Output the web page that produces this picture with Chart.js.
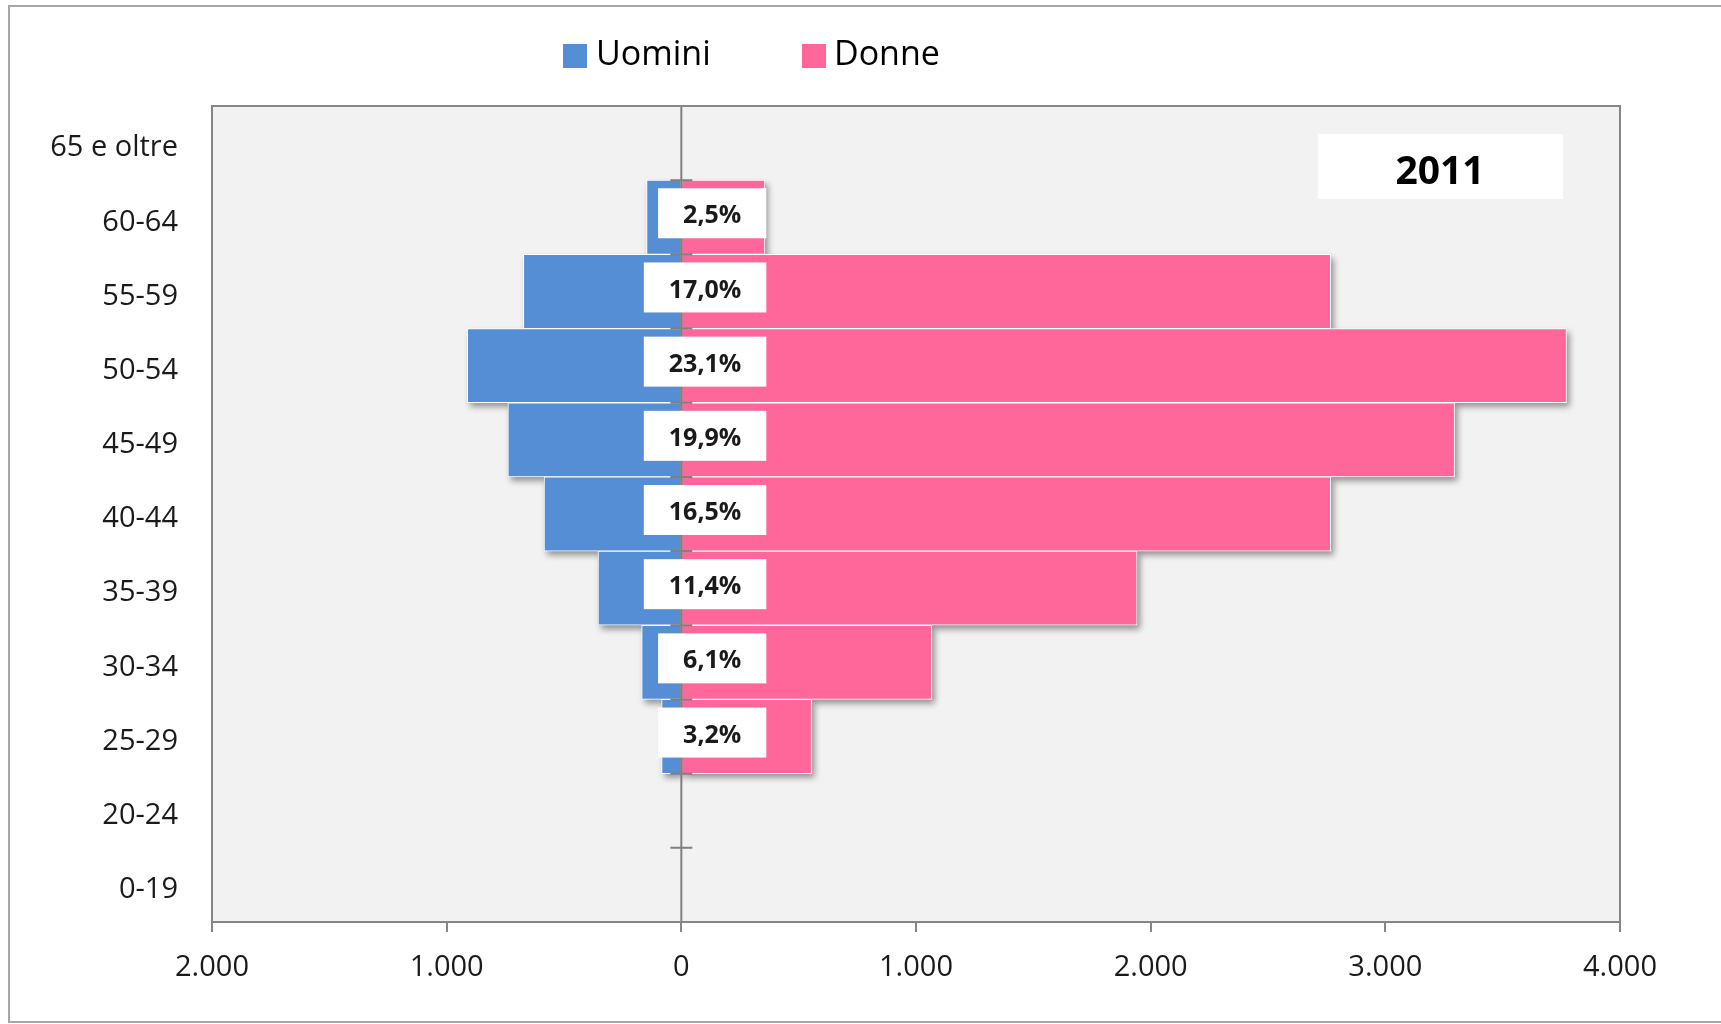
<html>
  <head>
    <style>
      body { margin: 0; background: #fff; }
      #wrap { width: 1721px; height: 1024px; }
    </style>
  </head>
  <body>
    <script src="https://cdn.jsdelivr.net/npm/chart.js@4.4.1/dist/chart.umd.min.js"></script>
    <div id="wrap"><canvas id="myChart"></canvas></div>

    <script>
      // dati (fasce d'età dall'alto in basso)
      const categories = ['65 e oltre', '60-64', '55-59', '50-54', '45-49', '40-44', '35-39', '30-34', '25-29', '20-24', '0-19'];
      const uomini = [0, 148, 673, 912, 739, 585, 355, 169, 84, 0, 0];
      const donne = [0, 356, 2767, 3772, 3295, 2767, 1942, 1067, 555, 0, 0];
      const pctLabels = ['', '2,5%', '17,0%', '23,1%', '19,9%', '16,5%', '11,4%', '6,1%', '3,2%', '', ''];
      const xTicks = [-2000, -1000, 0, 1000, 2000, 3000, 4000];
      const yearLabel = '2011';

      const BLUE = '#558ED5';
      const PINK = '#FF6699';
      const FONT = "'Open Sans', sans-serif";

      // 2000 -> "2.000"
      function fmt(v) {
        return String(Math.abs(v)).replace(/\B(?=(\d{3})+(?!\d))/g, '.');
      }

      // sfondo, cornici, ombre
      const decoPlugin = {
        id: 'deco',
        beforeDraw(chart) {
          const ctx = chart.ctx, a = chart.chartArea;
          ctx.save();
          ctx.fillStyle = '#fff';
          ctx.fillRect(0, 0, chart.width, chart.height);
          ctx.strokeStyle = '#a6a6a6';
          ctx.lineWidth = 2;
          ctx.strokeRect(9, 6, chart.width + 10, chart.height - 8);
          ctx.fillStyle = '#f2f2f2';
          ctx.fillRect(a.left, a.top, a.right - a.left, a.bottom - a.top);
          ctx.restore();
        },
        beforeDatasetsDraw(chart) {
          // ombre delle barre
          const ctx = chart.ctx;
          ctx.save();
          ctx.fillStyle = 'rgba(0,0,0,0.4)';
          ctx.filter = 'blur(3px)';
          chart.data.datasets.forEach((ds, di) => {
            chart.getDatasetMeta(di).data.forEach(el => {
              const p = el.getProps(['x', 'y', 'base', 'height'], true);
              if (Math.abs(p.x - p.base) < 1) return;
              const l = Math.min(p.x, p.base), r = Math.max(p.x, p.base);
              ctx.fillRect(l + 3, p.y - p.height / 2 + 4, r - l, p.height);
            });
          });
          ctx.restore();
        },
        afterDatasetsDraw(chart) {
          const ctx = chart.ctx, a = chart.chartArea;
          const xs = chart.scales.x, ys = chart.scales.y;
          const x0 = xs.getPixelForValue(0);
          const band = (a.bottom - a.top) / categories.length;
          ctx.save();
          // linea dello zero con tacche
          ctx.strokeStyle = '#808080';
          ctx.lineWidth = 2;
          ctx.beginPath();
          ctx.moveTo(x0, a.top);
          ctx.lineTo(x0, a.bottom);
          for (let i = 1; i <= 10; i++) {
            const y = a.top + band * i;
            ctx.moveTo(x0 - 11, y);
            ctx.lineTo(x0 + 11, y);
          }
          ctx.stroke();

          // etichette percentuali
          ctx.font = 'bold 25px ' + FONT;
          ctx.textAlign = 'center';
          ctx.textBaseline = 'middle';
          pctLabels.forEach((t, i) => {
            if (!t) return;
            const yc = ys.getPixelForValue(i);
            const w = ctx.measureText(t).width + 50;
            const right = x0 + 85;
            ctx.fillStyle = '#fff';
            ctx.fillRect(right - w, yc - 29, w, 50);
            ctx.fillStyle = '#1a1a1a';
            ctx.fillText(t, right - w / 2, yc - 1);
          });

          // riquadro anno
          ctx.fillStyle = '#fff';
          ctx.fillRect(a.right - 302, a.top + 28, 245, 65);
          ctx.fillStyle = '#000';
          ctx.font = 'bold 39px ' + FONT;
          ctx.fillText(yearLabel, a.right - 302 + 122, a.top + 28 + 39);

          // bordo area del grafico
          ctx.strokeStyle = '#868686';
          ctx.lineWidth = 2;
          ctx.strokeRect(a.left, a.top, a.right - a.left, a.bottom - a.top);

          // legenda
          ctx.textAlign = 'left';
          ctx.font = '34px ' + FONT;
          const leg = [[563, 596], [802, 834]];
          chart.data.datasets.forEach((ds, di) => {
            ctx.fillStyle = ds.backgroundColor;
            ctx.fillRect(leg[di][0], 44, 24, 24);
            ctx.fillStyle = '#000';
            ctx.fillText(ds.label, leg[di][1], 55);
          });
          ctx.restore();
        }
      };

      function initChart() {
        let ctx = document.getElementById('myChart').getContext('2d');
        return new Chart(ctx, {
          type: 'bar',
          data: {
            labels: categories,
            datasets: [
              {
                label: 'Uomini',
                data: uomini.map(v => -v),
                backgroundColor: BLUE,
                borderColor: '#fff',
                borderWidth: 1,
              },
              {
                label: 'Donne',
                data: donne,
                backgroundColor: PINK,
                borderColor: '#fff',
                borderWidth: 1,
              }
            ]
          },
          options: {
            indexAxis: 'y',
            responsive: true,
            maintainAspectRatio: false,
            animation: false,
            barPercentage: 1,
            categoryPercentage: 1,
            layout: { padding: { top: 106, right: 101, left: 0, bottom: 0 } },
            plugins: { legend: { display: false }, tooltip: { enabled: false } },
            scales: {
              x: {
                stacked: true,
                min: xTicks[0],
                max: xTicks[xTicks.length - 1],
                afterBuildTicks: s => { s.ticks = xTicks.map(v => ({ value: v })); },
                afterFit: s => { s.height = 102; },
                grid: { drawOnChartArea: false, drawTicks: true, tickLength: 10, tickColor: '#868686', lineWidth: 2 },
                border: { display: false },
                ticks: {
                  callback: v => fmt(v),
                  color: '#1a1a1a',
                  font: { family: FONT, size: 29 },
                  padding: 18,
                  maxRotation: 0,
                }
              },
              y: {
                stacked: true,
                afterFit: s => { s.width = 212; },
                grid: { display: false },
                border: { display: false },
                ticks: {
                  color: '#1a1a1a',
                  font: { family: FONT, size: 29 },
                  padding: 26,
                  labelOffset: 5,
                }
              }
            }
          },
          plugins: [decoPlugin]
        });
      }

      initChart();
    </script>
  </body>
</html>
